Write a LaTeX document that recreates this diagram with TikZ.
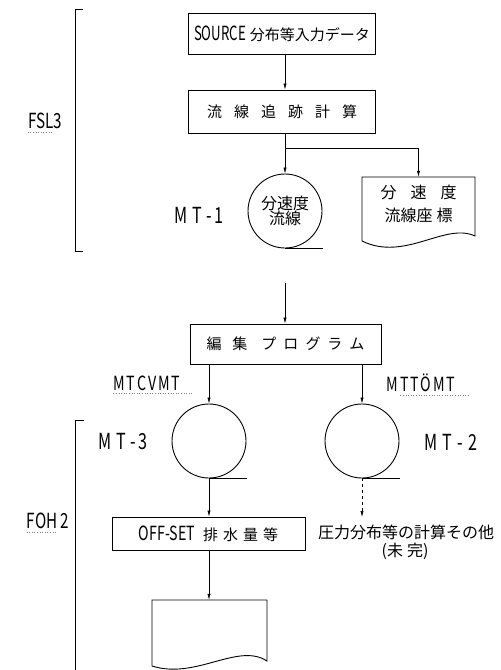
\documentclass[tikz,border=0pt]{standalone}
\usepackage{fontspec}
\usepackage{graphicx}
\setmainfont{Noto Sans CJK JP}
\usetikzlibrary{arrows.meta}
\newcommand\talltxt[1]{\scalebox{0.95}[1.3]{#1}}
\tikzset{
  shp/.style={draw, line width=0.9pt},
  boxn/.style={shp, inner sep=0pt, font=\fontsize{15}{17}\selectfont},
  tape/.style={shp, circle, inner sep=0pt, minimum size=74pt, align=center, font=\fontsize{16}{18}\selectfont},
  lbl/.style={inner sep=0pt, font=\fontsize{17}{19}\selectfont},
  arr/.style={line width=0.6pt, -{Latex[length=6pt,width=3.2pt]}},
  conn/.style={line width=0.6pt},
  uline/.style={line width=0.6pt, dotted, gray}
}
\begin{document}
\begin{tikzpicture}[x=1pt,y=-1pt]
\useasboundingbox[fill=white] (0,0) rectangle (501,670);

% brackets
\draw[conn, line width=0.8pt] (83,9) -- (75,9) -- (75,251) -- (83,251);
\draw[conn, line width=0.8pt] (84,420) -- (75,420) -- (75,670);

% side labels
\node[lbl, font=\fontsize{16}{18}\selectfont] (fsl) at (45,121) {\talltxt{FSL3}};
\draw[uline] (fsl.south west) ++(0,3) -- ++(24,0);
\node[lbl, font=\fontsize{16}{18}\selectfont] (foh) at (48,521) {\talltxt{FOH 2}};
\draw[uline] (foh.south west) ++(0,3) -- ++(30,0);

% top part
\node[boxn, minimum width=187pt, minimum height=41pt] (b1) at (282,33.5) {\scalebox{0.88}[1.3]{SOURCE}\hspace{4pt}分布等入力データ};
\node[boxn, minimum width=187pt, minimum height=43pt] (b2) at (282,111.5) {流\hspace{12pt}線\hspace{12pt}追\hspace{12pt}跡\hspace{12pt}計\hspace{12pt}算};
\draw[arr] (b1.south -| 285,0) -- (b2.north -| 285,0);

\node[tape] (mt1) at (285,211) {分速度\\[-3pt]流線};
\draw[shp] (mt1.south) -- ++(38,0);
\node[lbl] (mt1l) at (199,215) {\talltxt{M\hspace{5pt}T\hspace{5pt}-\hspace{3pt}1}};

\node[minimum width=113pt, minimum height=68pt, inner sep=0pt] (d1) at (418.5,211) {};
\draw[shp] (362,177) -- (475,177) -- (475,236)
  .. controls (445,222) and (405,262) .. (362,241) -- cycle;
\node[align=center, inner sep=0pt, font=\fontsize{16}{23}\selectfont] (d1t) at (418.5,204) {分\hspace{14pt}速\hspace{14pt}度\\流線座\hspace{4pt}標};

\coordinate (sp) at (285,148);
\draw[conn] (b2.south -| 285,0) -- (sp);
\draw[arr] (sp) -- (mt1.north);
\draw[arr] (sp) -| (d1.north);

% middle part
\coordinate (in) at (285,283);
\node[boxn, minimum width=191pt, minimum height=40pt] (b3) at (285.5,344) {編\hspace{11pt}集\hspace{14pt}プ\hspace{7pt}ロ\hspace{7pt}グ\hspace{7pt}ラ\hspace{7pt}ム};
\draw[arr] (in) -- (b3.north -| in);

\node[tape] (mt3) at (209,441) {};
\draw[shp] (mt3.south) -- ++(38,0);
\node[tape] (mt2) at (362,441) {};
\draw[shp] (mt2.south) -- ++(38,0);
\node[lbl] (mt3l) at (123,442) {\talltxt{M\hspace{5pt}T\hspace{5pt}-\hspace{3pt}3}};
\node[lbl] (mt2l) at (451,442) {\talltxt{M\hspace{5pt}T\hspace{6pt}-\hspace{6pt}2}};

\draw[arr] (b3.south -| mt3.north) -- (mt3.north);
\draw[arr] (b3.south -| mt2.north) -- (mt2.north);

\node[lbl, font=\fontsize{15}{17}\selectfont] (cv) at (147,383) {\talltxt{M\hspace{2pt}T\hspace{2pt}C\hspace{2pt}V\hspace{2pt}M\hspace{2pt}T}};
\draw[uline] (cv.south west) ++(0,3) -- ++(80,0);
\node[lbl, font=\fontsize{15}{17}\selectfont] (to) at (421,383) {\talltxt{M\hspace{2pt}T\hspace{2pt}T\hspace{2pt}Ö\hspace{2pt}M\hspace{2pt}T}};
\draw[uline] (to.south west) ++(14,3) -- ++(68,0);

% bottom part
\node[boxn, minimum width=193pt, minimum height=33pt] (b4) at (208.5,533.5) {\talltxt{OFF-SET}\hspace{8pt}排\hspace{5pt}水\hspace{5pt}量\hspace{5pt}等};
\draw[arr] (mt3.south) -- (b4.north -| mt3.south);

\node[minimum width=115pt, minimum height=66pt, inner sep=0pt] (d2) at (209.5,633) {};
\draw[shp] (152,600) -- (267,600) -- (267,661)
  .. controls (238,642) and (196,680) .. (152,666) -- cycle;
\draw[arr] (b4.south -| mt3.south) -- (d2.north -| mt3.south);

\coordinate (de) at (362,517);
\draw[arr, dashed] (mt2.south) -- (de);
\node[lbl, font=\fontsize{16}{18}\selectfont] (calc) at (406,532) {圧力分布等の計算その他};
\node[lbl, font=\fontsize{16}{18}\selectfont] (mk) at (405,551) {(未\hspace{4pt}完)};
\end{tikzpicture}
\end{document}
